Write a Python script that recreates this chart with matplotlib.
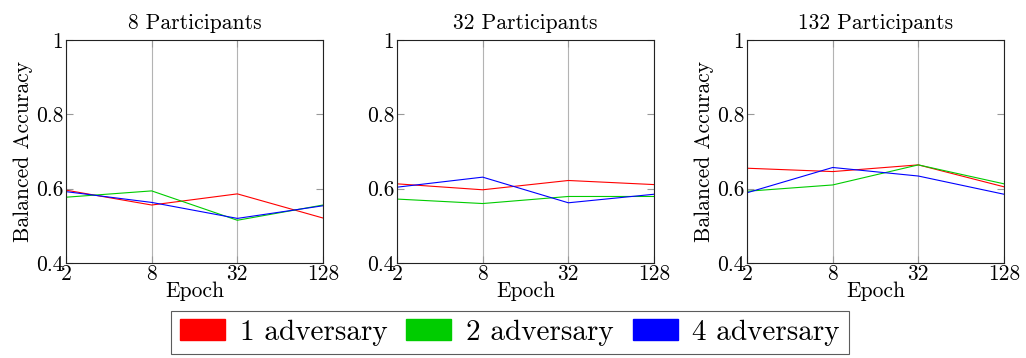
import matplotlib
matplotlib.use("Agg")
import matplotlib.pyplot as plt
from matplotlib.patches import Patch

plt.rcParams['font.family'] = ['cmr10', 'DejaVu Serif']
plt.rcParams['mathtext.fontset'] = 'cm'
plt.rcParams['axes.formatter.use_mathtext'] = True

epochs = [2, 8, 32, 128]
epoch_labels = ["2", "8", "32", "128"]
panel_titles = ["8 Participants", "32 Participants", "132 Participants"]
series_names = ["1 adversary", "2 adversary", "4 adversary"]
series_colors = ["#ff0000", "#00cc00", "#0000ff"]

p8_adv1 = [0.596, 0.556, 0.586, 0.521]
p8_adv2 = [0.577, 0.594, 0.515, 0.556]
p8_adv4 = [0.592, 0.563, 0.520, 0.554]

p32_adv1 = [0.613, 0.597, 0.622, 0.611]
p32_adv2 = [0.572, 0.560, 0.579, 0.579]
p32_adv4 = [0.604, 0.631, 0.562, 0.585]

p132_adv1 = [0.655, 0.646, 0.664, 0.605]
p132_adv2 = [0.593, 0.610, 0.664, 0.613]
p132_adv4 = [0.589, 0.657, 0.634, 0.585]

panels = [
    [p8_adv1, p8_adv2, p8_adv4],
    [p32_adv1, p32_adv2, p32_adv4],
    [p132_adv1, p132_adv2, p132_adv4],
]

yticks = [0.4, 0.6, 0.8, 1.0]
ytick_labels = ["0.4", "0.6", "0.8", "1"]

fig = plt.figure(figsize=(10.26, 3.58), dpi=100)
lefts = [66, 397, 747]
W, H = 1026, 358
fs = 15.5

for i, (left, data) in enumerate(zip(lefts, panels)):
    ax = fig.add_axes([left / W, 1 - 263 / H, 257 / W, 223 / H])
    for vals, c in zip(data, series_colors):
        ax.plot(epochs, vals, color=c, lw=0.8)
    ax.set_xscale('log', base=2)
    ax.set_xlim(2, 128)
    ax.set_ylim(0.4, 1.0)
    ax.set_xticks(epochs)
    ax.set_xticklabels(epoch_labels, fontsize=fs)
    ax.minorticks_off()
    ax.set_yticks(yticks)
    ax.set_yticklabels(ytick_labels, fontsize=fs)
    ax.grid(True, axis='x', color='#b3b3b3', lw=0.8)
    ax.tick_params(direction='in', color='#999999', length=5, width=0.8,
                   top=True, right=True)
    ax.tick_params(axis='x', pad=1)
    ax.tick_params(axis='y', pad=2)
    for s in ax.spines.values():
        s.set_linewidth(0.8)
        s.set_color('#222222')
    ax.set_title(panel_titles[i], fontsize=fs, pad=8)
    ax.set_xlabel("Epoch", fontsize=fs, labelpad=-2)
    if i != 1:
        ax.set_ylabel("Balanced Accuracy", fontsize=fs, labelpad=2)

handles = [Patch(facecolor=c, edgecolor=c) for c in series_colors]
leg = fig.legend(handles, series_names, loc='lower center', ncol=3,
                 bbox_to_anchor=(0.497, 0.01), fontsize=21, frameon=True,
                 fancybox=False, edgecolor='#333333', handlelength=1.55,
                 handleheight=0.7, columnspacing=0.65, handletextpad=0.5,
                 borderpad=0.3, borderaxespad=0.0)
leg.get_frame().set_linewidth(0.8)

fig.savefig("out.png", dpi=100)
